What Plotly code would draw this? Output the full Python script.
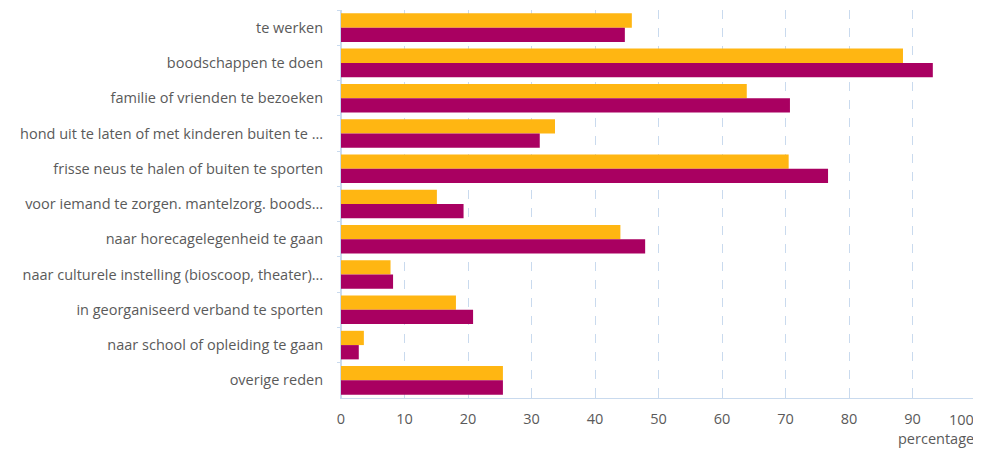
import plotly.graph_objects as go

categories = [
    "te werken",
    "boodschappen te doen",
    "familie of vrienden te bezoeken",
    "hond uit te laten of met kinderen buiten te ...",
    "frisse neus te halen of buiten te sporten",
    "voor iemand te zorgen. mantelzorg. boods...",
    "naar horecagelegenheid te gaan",
    "naar culturele instelling (bioscoop, theater)...",
    "in georganiseerd verband te sporten",
    "naar school of opleiding te gaan",
    "overige reden",
]
series_orange = [45.8, 88.5, 63.9, 33.7, 70.5, 15.1, 44.0, 7.8, 18.1, 3.6, 25.5]
series_purple = [44.7, 93.2, 70.7, 31.3, 76.7, 19.3, 47.9, 8.2, 20.8, 2.8, 25.5]
x_ticks = [0, 10, 20, 30, 40, 50, 60, 70, 80, 90, 100]
x_axis_title = "percentage"

ORANGE = "#FFB612"
PURPLE = "#A90061"
GRID = "#C9DAEE"
TEXT = "#5a5a5a"
FONT = "Open Sans"
FS = 14.5

fig = go.Figure()
fig.add_trace(go.Bar(y=categories, x=series_orange, orientation="h",
                     marker=dict(color=ORANGE, line=dict(width=0)), name="a"))
fig.add_trace(go.Bar(y=categories, x=series_purple, orientation="h",
                     marker=dict(color=PURPLE, line=dict(width=0)), name="b"))

# last tick label is right-aligned at the edge as in the reference
tick_text = [str(v) for v in x_ticks[:-1]] + [""]

# the page body adds an 8px offset, so the figure is 8px smaller than the window
fig.update_layout(
    width=973, height=442,
    margin=dict(l=333, r=5, t=2, b=52, autoexpand=False),
    paper_bgcolor="white", plot_bgcolor="white",
    barmode="group", bargap=0.19, bargroupgap=0.0,
    showlegend=False,
    font=dict(family=FONT, size=FS, color=TEXT),
    xaxis=dict(
        range=[0, 100], tickvals=x_ticks, ticktext=tick_text,
        automargin=False,
        showgrid=True, gridcolor=GRID, griddash="dash", gridwidth=1,
        zeroline=True, zerolinecolor=GRID, zerolinewidth=1,
        showline=True, linecolor=GRID, linewidth=1,
        ticks="inside", ticklen=3, tickcolor=GRID,
        ticklabelstandoff=8,
        tickfont=dict(family=FONT, size=FS, color=TEXT),
    ),
    yaxis=dict(
        categoryorder="array", categoryarray=categories, autorange="reversed",
        automargin=False,
        showgrid=False, showline=True, linecolor=GRID, linewidth=1,
        ticks="outside", ticklen=3, tickcolor=GRID, tickson="boundaries",
        ticklabelstandoff=14,
        tickfont=dict(family=FONT, size=FS, color=TEXT),
    ),
    annotations=[
        dict(text=str(x_ticks[-1]), xref="x", yref="paper",
             x=x_ticks[-1], y=0, yshift=-21, xanchor="right", yanchor="middle",
             showarrow=False, font=dict(family=FONT, size=FS, color=TEXT)),
        dict(text=x_axis_title, xref="paper", yref="paper",
             x=1.0, y=0, yshift=-40, xanchor="right", yanchor="middle",
             showarrow=False, font=dict(family=FONT, size=FS, color=TEXT)),
    ],
)

fig.write_html("out.html")
